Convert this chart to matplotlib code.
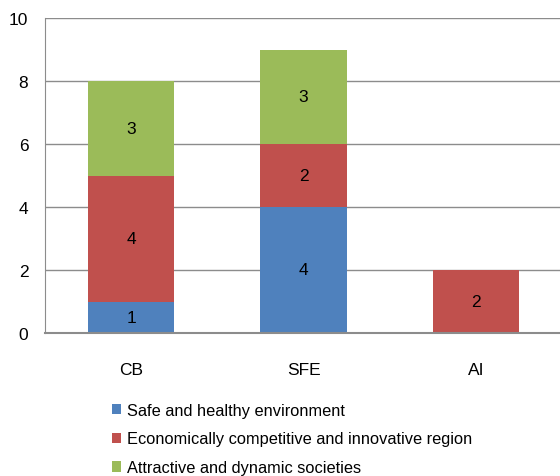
import matplotlib.pyplot as plt
import numpy as np

# data
categories = ['CB', 'SFE', 'AI']
series_names = ['Safe and healthy environment',
                'Economically competitive and innovative region',
                'Attractive and dynamic societies']
safe = [1, 4, 0]
econ = [4, 2, 2]
attractive = [3, 3, 0]
colors = ['#4F81BD', '#C0504D', '#9BBB59']

plt.rcParams['font.family'] = ['Liberation Sans', 'DejaVu Sans']

fig = plt.figure(figsize=(5.6, 4.77), dpi=100)
ax = fig.add_axes([45 / 560, 1 - 334 / 477, 517 / 560, 315 / 477])

x = np.arange(len(categories))
bottom = np.zeros(len(categories))
handles = []
for vals, name, col in zip([safe, econ, attractive], series_names, colors):
    vals = np.array(vals, dtype=float)
    bars = ax.bar(x, vals, width=0.5, bottom=bottom, color=col,
                  linewidth=0, label=name, zorder=3)
    handles.append(bars)
    for xi, v, b in zip(x, vals, bottom):
        if v > 0:
            ax.text(xi, b + v / 2, f'{int(v)}', ha='center', va='center',
                    fontsize=12.5, color='black', zorder=4)
    bottom += vals

ax.set_xlim(-0.5, 2.5)
ax.set_ylim(0, 10)
ax.set_yticks(range(0, 11, 2))
ax.set_xticks(x)
ax.set_xticklabels(categories)
ax.yaxis.grid(True, color='#8C8C8C', linewidth=1.0, zorder=0)
ax.tick_params(axis='both', length=0, labelsize=12.5)
ax.tick_params(axis='x', pad=21)
ax.tick_params(axis='y', pad=12)
for side in ['top', 'right']:
    ax.spines[side].set_visible(False)
ax.spines['left'].set_color('#8C8C8C')
ax.spines['bottom'].set_color('#8C8C8C')
ax.spines['bottom'].set_linewidth(1.5)
ax.spines['bottom'].set_zorder(5)

fig.legend(handles=handles, labels=series_names, loc='upper left',
           bbox_to_anchor=(105 / 560, 1 - 397 / 477), frameon=False,
           fontsize=11.8, handlelength=0.6, handleheight=0.6,
           handletextpad=0.35, labelspacing=0.85, borderaxespad=0)

fig.savefig('out.png', dpi=100)
